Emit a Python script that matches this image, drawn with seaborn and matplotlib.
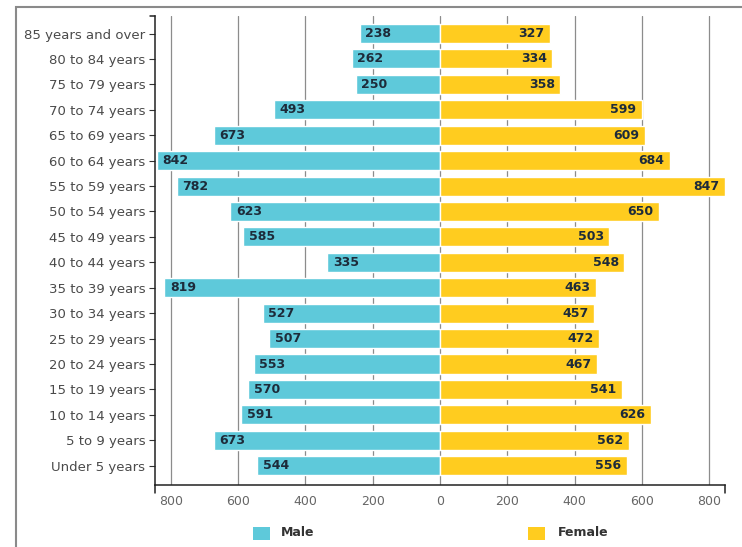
import matplotlib
matplotlib.use("Agg")
import matplotlib.pyplot as plt
import seaborn as sns
import pandas as pd
from matplotlib.patches import Rectangle

age_groups = ["85 years and over", "80 to 84 years", "75 to 79 years", "70 to 74 years",
              "65 to 69 years", "60 to 64 years", "55 to 59 years", "50 to 54 years",
              "45 to 49 years", "40 to 44 years", "35 to 39 years", "30 to 34 years",
              "25 to 29 years", "20 to 24 years", "15 to 19 years", "10 to 14 years",
              "5 to 9 years", "Under 5 years"]
male = [238, 262, 250, 493, 673, 842, 782, 623, 585, 335, 819, 527, 507, 553, 570, 591, 673, 544]
female = [327, 334, 358, 599, 609, 684, 847, 650, 503, 548, 463, 457, 472, 467, 541, 626, 562, 556]
x_ticks = [-800, -600, -400, -200, 0, 200, 400, 600, 800]
series = ["Male", "Female"]

MALE_C = "#5ec9da"
FEMALE_C = "#ffcc1f"
TEXT_C = "#1d2b3a"

sns.set_theme(style="white")
plt.rcParams["font.family"] = ["DejaVu Sans"]

df = pd.DataFrame({
    "age": age_groups * 2,
    "sex": ["Male"] * len(age_groups) + ["Female"] * len(age_groups),
    "value": male + female,
})
df["signed"] = df.apply(lambda r: -r["value"] if r["sex"] == "Male" else r["value"], axis=1)

W, H = 742, 547
fig = plt.figure(figsize=(W / 100, H / 100), dpi=100)
fig.patch.set_facecolor("white")
ax = fig.add_axes([155 / W, (H - 485) / H, 570 / W, 469 / H])

sns.barplot(data=df, y="age", x="signed", hue="sex", order=age_groups,
            hue_order=series, palette={"Male": MALE_C, "Female": FEMALE_C},
            dodge=False, width=0.75, legend=False, ax=ax, saturation=1)

xmax = max(max(male), max(female))
ax.set_xlim(-xmax, xmax)
ax.set_ylim(len(age_groups) - 1 + 0.76, -0.69)
ax.set_xlabel("")
ax.set_ylabel("")

# grid lines at ticks
ax.set_axisbelow(True)
for t in x_ticks:
    ax.axvline(t, color="#8c8c8c", lw=0.9, zorder=0)

ax.set_xticks(x_ticks)
ax.set_xticklabels([str(abs(t)) for t in x_ticks], color="#666666", fontsize=9)
ax.tick_params(axis="x", length=0, pad=7)
ax.tick_params(axis="y", length=4, width=0.8, color="#333333", labelsize=9.5,
               labelcolor="#4a4a4a", pad=3, left=True)

for s in ["top", "right"]:
    ax.spines[s].set_visible(False)
for s in ["left", "bottom"]:
    ax.spines[s].set_color("#222222")
    ax.spines[s].set_linewidth(1.1)

# outer ticks (caps)
ax.plot([0, 0], [0, -0.018], transform=ax.transAxes, color="#222222", lw=1.1, clip_on=False)
ax.plot([1, 1], [0, -0.018], transform=ax.transAxes, color="#222222", lw=1.1, clip_on=False)
ax.plot([0, -0.009], [1, 1], transform=ax.transAxes, color="#222222", lw=1.1, clip_on=False)

# value labels
for i, (m, f) in enumerate(zip(male, female)):
    ax.annotate(str(m), xy=(-m, i), xytext=(4, 0), textcoords="offset points",
                ha="left", va="center", fontsize=9, fontweight="bold", color=TEXT_C)
    ax.annotate(str(f), xy=(f, i), xytext=(-4, 0), textcoords="offset points",
                ha="right", va="center", fontsize=9, fontweight="bold", color=TEXT_C)

# legend
for name, col, sx, tx in [("Male", MALE_C, 253, 281), ("Female", FEMALE_C, 528, 558)]:
    fig.patches.append(Rectangle((sx / W, (H - 540) / H), 17 / W, 13 / H,
                                 transform=fig.transFigure, facecolor=col, edgecolor="none"))
    fig.text(tx / W, (H - 533) / H, name, ha="left", va="center", fontsize=9,
             fontweight="bold", color="#333333")

# frame
fig.patches.append(Rectangle((16 / W, -0.05), 1.2, (H - 7) / H + 0.05, transform=fig.transFigure,
                             facecolor="none", edgecolor="#8a8a8a", lw=1.5))

fig.savefig("out.png", dpi=100)
